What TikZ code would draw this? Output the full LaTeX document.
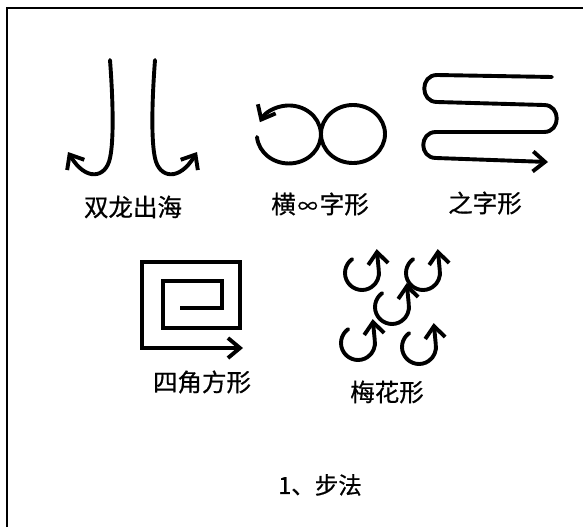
\documentclass[tikz,border=0pt]{standalone}
\usepackage{fontspec}
\newfontfamily\cjk[FakeBold=0.6]{Noto Sans CJK SC}
\usetikzlibrary{arrows.meta}

\tikzset{
	steppicture/.style = {
		x = 1pt,
		y = -1pt,
		stroke/.style = {
			draw,
			line width = 3.9pt,
			line cap = round,
			line join = round,
		}
	},
	tip/.style = {
		-{Straight Barb[length=12pt, width=20pt]}
	},
	frame/.style = {
		draw,
		line width = 1.3pt
	},
	steplabel/.style = {
		inner sep = 0pt,
		font = \cjk\fontsize{24.5}{24.5}\selectfont
	},
	title/.style = {
		inner sep = 0pt,
		font = \cjk\fontsize{23.5}{23.5}\selectfont
	}
}

\begin{document}
\begin{tikzpicture}[steppicture]
	\useasboundingbox (0,0) rectangle (583,527);
	\path[frame] (7,527) -- (7,8) -- (583,8);

	% dragons
	\path[stroke, tip] (110,60) .. controls (113,100) and (114,140) .. (110,158)
		.. controls (106,178) and (86,182) .. (68,152);
	\path[stroke, tip] (155,60) .. controls (152,100) and (151,140) .. (155,158)
		.. controls (159,178) and (179,182) .. (197,152);
	\node[steplabel] (dragon) at (133,207) {双龙出海};

	% infinity
	\path[stroke] (353,134) ellipse[x radius=32, y radius=29];
	\path[stroke, tip] (257,137) arc[start angle=175, end angle=-155, x radius=32, y radius=29];
	\node[steplabel] (infinity) at (320,204) {横\kern2pt{\fontsize{20}{20}\selectfont∞}\kern2pt字形};

	% zigzag
	\path[stroke, tip] (552,77) -- (437,75) .. controls (420,75) and (420,102) .. (437,102)
		-- (544,105) .. controls (561,105) and (561,132) .. (544,132)
		-- (436,132) .. controls (419,132) and (419,158) .. (436,158) -- (548,162);
	\node[steplabel] (zigzag) at (485,203) {之字形};

	% square
	\path[stroke, tip, line join=miter, line cap=butt] (180,308) -- (222,308) -- (222,281) -- (163,281)
		-- (163,328) -- (240,328) -- (240,262) -- (142,262) -- (142,348) -- (243,348);
	\node[steplabel] (square) at (202,382) {四角方形};

	% plum
	\foreach \cx/\cy in {362/273, 423/273, 392/307, 358/343, 419/347}
		\path[stroke, tip] (\cx,\cy) ++(235:17) arc[start angle=235, end angle=-10, radius=17] -- ++(-2,-21);
	\node[steplabel] (plum) at (387,392) {梅花形};

	\node[title] (steps) at (320,485) {1、步法};
\end{tikzpicture}
\end{document}
